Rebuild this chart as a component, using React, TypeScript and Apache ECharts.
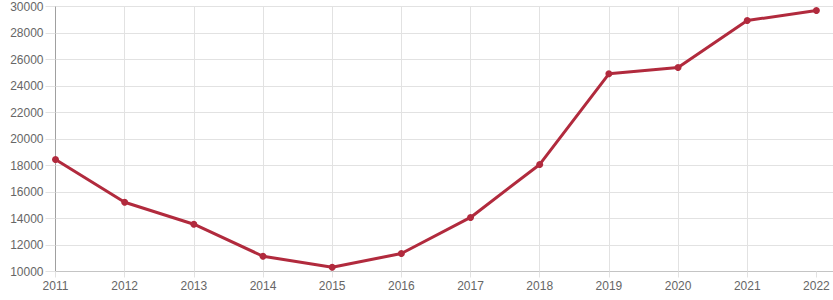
import React, { useEffect, useRef } from "react";
import * as echarts from "echarts";

const years = [2011, 2012, 2013, 2014, 2015, 2016, 2017, 2018, 2019, 2020, 2021, 2022];
const values = [18450, 15230, 13570, 11150, 10320, 11360, 14080, 18080, 24920, 25400, 28940, 29700];

const FONT = "'Liberation Sans', Arial, Helvetica, sans-serif";
const LINE_COLOR = "#b12a3d";
const GRID_COLOR = "#e2e2e2";

export default function App() {
  const ref = useRef<HTMLDivElement>(null);
  useEffect(() => {
    if (!ref.current) return;
    const chart = echarts.init(ref.current, null, { renderer: "svg" });
    chart.setOption({
      animation: false,
      grid: { left: 55.5, right: 0, top: 6.5, bottom: 28.5, containLabel: false },
      xAxis: {
        type: "value",
        min: 2011,
        max: 2022.24,
        interval: 1,
        axisLine: { show: true, lineStyle: { color: "#c4c4c4", width: 1 } },
        axisTick: {
          show: true,
          length: 6,
          customValues: years,
          lineStyle: { color: GRID_COLOR },
        },
        axisLabel: {
          customValues: years,
          color: "#666",
          fontSize: 12,
          fontFamily: FONT,
          margin: 8,
          formatter: (v: number) => String(v),
        },
        splitLine: {
          show: true,
          showMaxLine: false,
          lineStyle: { color: GRID_COLOR, width: 1 },
        },
      },
      yAxis: {
        type: "value",
        min: 10000,
        max: 30000,
        interval: 2000,
        axisLine: { show: true, lineStyle: { color: "#a0a0a0", width: 1 } },
        axisTick: { show: true, length: 10, lineStyle: { color: GRID_COLOR } },
        axisLabel: {
          color: "#666",
          fontSize: 12,
          fontFamily: FONT,
          margin: 12,
          formatter: (v: number) => String(v),
        },
        splitLine: { show: true, lineStyle: { color: GRID_COLOR, width: 1 } },
      },
      series: [
        {
          type: "line",
          data: years.map((y, i) => [y, values[i]]),
          lineStyle: { color: LINE_COLOR, width: 3 },
          itemStyle: { color: LINE_COLOR },
          symbol: "circle",
          symbolSize: 7,
          showAllSymbol: true,
        },
      ],
    });
    return () => chart.dispose();
  }, []);
  return (
    <div
      ref={ref}
      style={{ position: "absolute", left: 0, top: 0, width: 833, height: 300 }}
    />
  );
}
